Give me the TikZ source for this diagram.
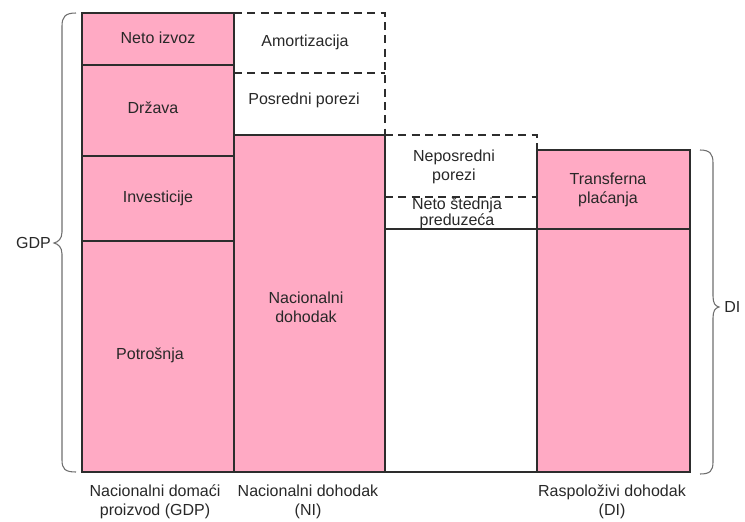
\documentclass[tikz,border=0pt]{standalone}
\usepackage{fontspec}
\setmainfont{Liberation Sans}
\definecolor{pinkfill}{RGB}{255,170,196}
\definecolor{edge}{RGB}{45,45,45}
\definecolor{txt}{RGB}{40,40,40}
\definecolor{bracecol}{RGB}{110,110,110}
\begin{document}
\begin{tikzpicture}[x=0.75pt,y=-0.75pt,
  font=\fontsize{12}{14.4}\selectfont,
  pinkbox/.style={fill=pinkfill,draw=edge,line width=1pt},
  dashline/.style={draw=edge,line width=1pt,dash pattern=on 6pt off 4pt},
  solidline/.style={draw=edge,line width=1pt},
  lbl/.style={align=center,text=txt,inner sep=0pt},
  bracestyle/.style={draw=bracecol,line width=0.8pt}]
\useasboundingbox (0,0) rectangle (745,521);

% column 2 and 3 dashed parts (drawn first)
\draw[dashline] (234,13) -- (385,13) -- (385,135);
\draw[dashline] (234,73) -- (385,73);
\draw[dashline] (385,135) -- (537,135) -- (537,150);
\draw[dashline] (385,197) -- (537,197);
\draw[solidline] (385,229) -- (537,229);
\draw[solidline] (385,472) -- (537,472);

% column 1
\path[pinkbox] (82,13) rectangle (234,65);
\path[pinkbox] (82,65) rectangle (234,156);
\path[pinkbox] (82,156) rectangle (234,241);
\path[pinkbox] (82,241) rectangle (234,472);
% column 2
\path[pinkbox] (234,135) rectangle (385,472);
% column 4
\path[pinkbox] (537,150) rectangle (690,229);
\path[pinkbox] (537,229) rectangle (690,472);

% texts
\node[lbl] (neto) at (158,38) {Neto izvoz};
\node[lbl] (drzava) at (153,108) {Država};
\node[lbl] (inv) at (158,198) {Investicije};
\node[lbl] (potr) at (150,355) {Potrošnja};
\node[lbl] (amort) at (305,42) {Amortizacija};
\node[lbl] (posr) at (304,100) {Posredni porezi};
\node[lbl] (nd) at (306,307) {Nacionalni\\dohodak};
\node[lbl] (nep) at (454,167) {Neposredni\\porezi};
\node[lbl,font=\fontsize{12}{12}\selectfont] (stednja) at (457,213) {Neto štednja\\preduzeća};
\node[lbl] (transf) at (608,190) {Transferna\\plaćanja};

\node[lbl] (l1) at (155,502) {Nacionalni domaći\\proizvod (GDP)};
\node[lbl] (l2) at (308,502) {Nacionalni dohodak\\(NI)};
\node[lbl] (l3) at (612,502) {Raspoloživi dohodak\\(DI)};

% braces
\draw[bracestyle] (76,13) .. controls (65,13) and (62,17) .. (62,26) -- (62,232)
  .. controls (62,239) and (58,242) .. (54,243)
  .. controls (58,244) and (62,247) .. (62,254) -- (62,460)
  .. controls (62,469) and (65,472) .. (76,472);
\node[lbl,anchor=east] (gdp) at (51,243) {GDP};

\draw[bracestyle] (700,150) .. controls (710,150) and (713,154) .. (713,163) -- (713,296)
  .. controls (713,303) and (715,306) .. (719,307)
  .. controls (715,308) and (713,311) .. (713,318) -- (713,462)
  .. controls (713,471) and (710,474) .. (700,474);
\node[lbl,anchor=west] (di) at (724,307) {DI};
\end{tikzpicture}
\end{document}
